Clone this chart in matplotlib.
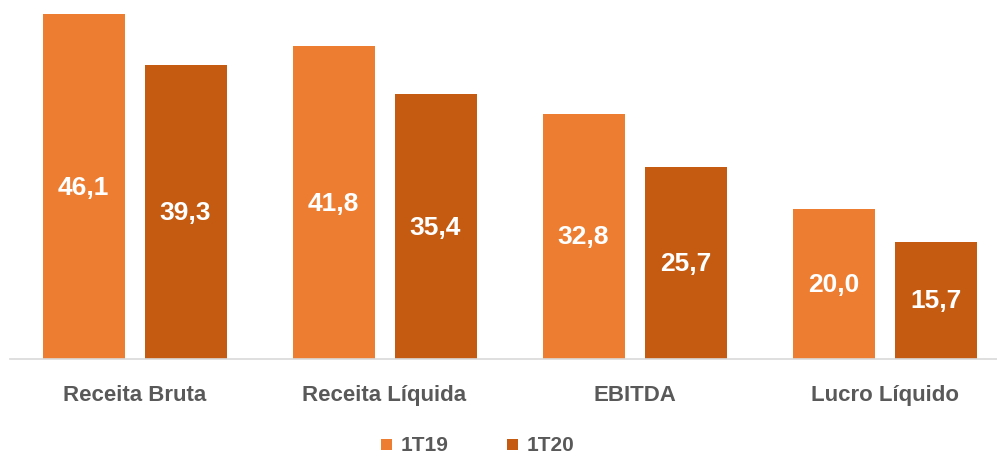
import matplotlib.pyplot as plt
import numpy as np

categories = ['Receita Bruta', 'Receita Líquida', 'EBITDA', 'Lucro Líquido']
series_names = ['1T19', '1T20']
v_1t19 = [46.1, 41.8, 32.8, 20.0]
v_1t20 = [39.3, 35.4, 25.7, 15.7]
colors = ['#ED7D31', '#C55A11']

plt.rcParams['font.family'] = ['Liberation Sans', 'DejaVu Sans']

fig = plt.figure(figsize=(9.97, 4.56), dpi=100)
# the category step is 250 px, so the axes runs a bit past the right edge
ax = fig.add_axes([9.5/997, 1 - 360/456, 1000/997, 360/456])

x = np.arange(len(categories))
w = 0.328
off = 0.204
for vals, name, c, o in [(v_1t19, series_names[0], colors[0], -off),
                         (v_1t20, series_names[1], colors[1], off)]:
    bars = ax.bar(x + o, vals, w, color=c, label=name)
    for b, v in zip(bars, vals):
        ax.text(b.get_x() + b.get_width() / 2, v / 2, f'{v:.1f}'.replace('.', ','),
                ha='center', va='center', color='white', fontsize=19, fontweight='bold')

ax.set_xlim(-0.5, len(categories) - 0.5)
ax.set_ylim(0, 360 / 7.48)
ax.set_yticks([])
ax.set_xticks(x)
ax.set_xticklabels(categories, fontsize=16, fontweight='bold', color='#595959')
ax.tick_params(axis='x', length=0, pad=18)
for s in ['top', 'right', 'left']:
    ax.spines[s].set_visible(False)
ax.spines['bottom'].set_color('#D9D9D9')
ax.spines['bottom'].set_linewidth(1.2)

leg = fig.legend(loc='center', bbox_to_anchor=(0.479, 0.024), ncol=2, frameon=False,
                 handlelength=0.8, handleheight=0.8, columnspacing=4.2, handletextpad=0.6)
for t in leg.get_texts():
    t.set_fontsize(15)
    t.set_fontweight('bold')
    t.set_color('#595959')

fig.savefig('out.png', dpi=100)
